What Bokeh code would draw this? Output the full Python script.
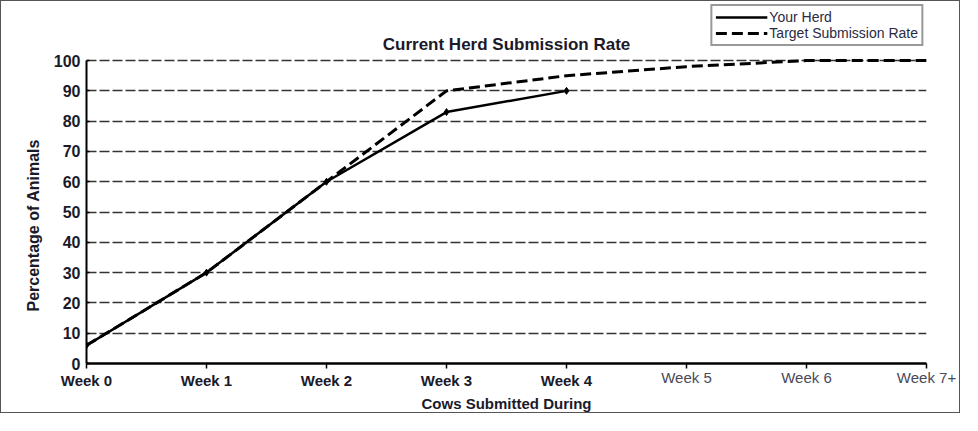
from bokeh.plotting import figure
from bokeh.models import Range1d, FixedTicker, Legend, LegendItem, LinearAxis, Title, Label
from bokeh.embed import file_html
from bokeh.resources import INLINE

# ---- data ----
weeks = ["Week 0", "Week 1", "Week 2", "Week 3", "Week 4", "Week 5", "Week 6", "Week 7+"]
herd = [6, 30, 60, 83, 90]
target = [6, 30, 60, 90, 95, 98, 100, 100]
y_ticks = [0, 10, 20, 30, 40, 50, 60, 70, 80, 90, 100]

FONT = "Liberation Sans"
INK = "#1a1a2a"
Y_TOP = 119.5   # headroom above 100 so the title and legend sit inside the frame

n_herd = len(herd)
y_max_tick = y_ticks[-1]

p = figure(width=960, height=413, output_backend="svg", toolbar_location=None,
           x_range=Range1d(0, len(weeks) - 1), y_range=Range1d(y_ticks[0], Y_TOP),
           min_border_left=85, min_border_right=35, min_border_top=0, min_border_bottom=0,
           title=None, styles={"border": "1px solid #555555"})
p.outline_line_color = None
p.background_fill_color = "white"
p.border_fill_color = "white"

# grid
p.xgrid.grid_line_color = None
p.ygrid.grid_line_color = "#333333"
p.ygrid.grid_line_width = 1.5
p.ygrid.grid_line_dash = "10 3"

# y axis
ya = p.yaxis[0]
ya.ticker = FixedTicker(ticks=y_ticks)
ya.bounds = (y_ticks[0], y_max_tick)
ya.axis_line_color = "black"
ya.axis_line_width = 2
ya.major_tick_in = 3
ya.major_tick_out = 0
ya.major_tick_line_width = 1.5
ya.minor_tick_line_color = None
ya.major_label_text_font = FONT
ya.major_label_text_font_size = "16px"
ya.major_label_text_font_style = "bold"
ya.major_label_text_color = INK
ya.major_label_standoff = 6

p.add_layout(Title(text="Percentage of Animals", align="left", offset=52,
                   text_font=FONT, text_font_size="16px", text_font_style="bold",
                   text_color=INK, standoff=18), "left")

# x axis 1 (next to frame): line, ticks, lighter labels for weeks without herd data
xa = p.xaxis[0]
xa.ticker = FixedTicker(ticks=list(range(len(weeks))))
xa.major_label_overrides = {i: (w if i >= n_herd else "") for i, w in enumerate(weeks)}
xa.axis_line_color = "black"
xa.axis_line_width = 2.5
xa.major_tick_in = 0
xa.major_tick_out = 5
xa.major_tick_line_width = 1.5
xa.minor_tick_line_color = None
xa.major_label_text_font = FONT
xa.major_label_text_font_size = "15px"
xa.major_label_text_font_style = "normal"
xa.major_label_text_color = "#4a4a5a"
xa.major_label_standoff = 0

# x axis 2: bold labels for weeks with herd data, plus the axis title
xb = LinearAxis(ticker=FixedTicker(ticks=list(range(n_herd))),
                major_label_overrides={i: weeks[i] for i in range(n_herd)})
xb.axis_line_color = None
xb.major_tick_line_color = None
xb.minor_tick_line_color = None
xb.major_tick_in = 0
xb.major_tick_out = 0
xb.major_label_text_font = FONT
xb.major_label_text_font_size = "15px"
xb.major_label_text_font_style = "bold"
xb.major_label_text_color = INK
xb.major_label_standoff = -17
xb.axis_label = "Cows Submitted During"
xb.axis_label_text_font = FONT
xb.axis_label_text_font_size = "15px"
xb.axis_label_text_font_style = "bold"
xb.axis_label_text_color = INK
xb.axis_label_standoff = 3
p.add_layout(xb, "below")

# lines
r_target = p.line(list(range(len(target))), target, line_color="black",
                  line_width=3, line_dash="11 5")
r_herd = p.line(list(range(n_herd)), herd, line_color="black", line_width=2.5)
p.scatter(list(range(n_herd)), herd, marker="diamond", size=7, color="black")

# chart title, floated above the 100% line
p.add_layout(Label(x=(len(weeks) - 1) / 2, y=y_max_tick, y_offset=7,
                   text="Current Herd Submission Rate", text_align="center",
                   text_baseline="bottom", text_font=FONT, text_font_size="17px",
                   text_font_style="bold", text_color=INK))

legend = Legend(items=[LegendItem(label="Your Herd", renderers=[r_herd]),
                       LegendItem(label="Target Submission Rate", renderers=[r_target])],
                location="top_right")
legend.label_text_font = FONT
legend.label_text_font_size = "14px"
legend.label_text_color = "#2a2a44"
legend.label_text_line_height = 1.0
legend.label_height = 14
legend.glyph_height = 14
legend.glyph_width = 52
legend.label_standoff = 2
legend.spacing = 0
legend.padding = 3
legend.margin = 3
legend.border_line_color = "#333333"
legend.border_line_width = 2
legend.background_fill_color = "white"
legend.background_fill_alpha = 1
p.add_layout(legend, "center")

open("out.html", "w").write(file_html(p, INLINE))
